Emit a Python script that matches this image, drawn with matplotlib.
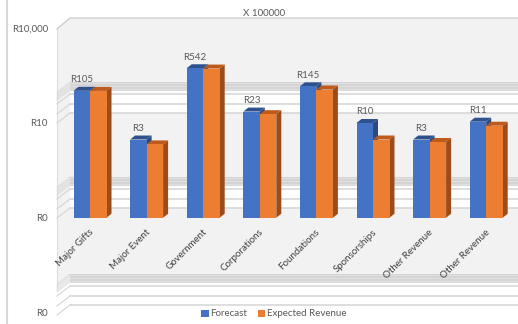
import matplotlib
matplotlib.use("Agg")
import matplotlib.pyplot as plt
import numpy as np
from matplotlib.patches import Polygon, Rectangle, Patch
from matplotlib.lines import Line2D
from matplotlib.transforms import IdentityTransform
from matplotlib.ticker import NullLocator

# ---- data -------------------------------------------------------------
categories = ["Major Gifts", "Major Event", "Government", "Corporations",
              "Foundations", "Sponsorships", "Other Revenue", "Other Revenue"]
forecast = [105, 3, 542, 23, 145, 10, 3, 11]
expected = [104, 2.1, 530, 19, 115, 3.0, 2.5, 8.2]
value_labels = ["R105", "R3", "R542", "R23", "R145", "R10", "R3", "R11"]
ytick_values = [1e4, 10, 1e-2, 1e-5]
ytick_labels = ["R10,000", "R10", "R0", "R0"]
series_names = ["Forecast", "Expected Revenue"]
unit_note = "X 100000"

# ---- style ------------------------------------------------------------
W, H = 518, 324
BLUE, BLUE_TOP, BLUE_SIDE = "#4472C4", "#2F528F", "#2B4A80"
ORANGE, ORANGE_TOP, ORANGE_SIDE = "#ED7D31", "#BE5B1C", "#9C4B19"
TXT = "#595959"
WALL = "#F2F2F2"
GRID = "#D4D4D4"
plt.rcParams["font.family"] = ["Lato", "DejaVu Sans"]

fig = plt.figure(figsize=(W / 100, H / 100), dpi=100)
fig.patch.set_facecolor("white")


def fx(px):
    return px / W


def fy(py):
    return 1 - py / H


def fig_poly(pts, **kw):
    p = Polygon([(fx(a), fy(b)) for a, b in pts], closed=True,
                transform=fig.transFigure, zorder=-5, **kw)
    fig.patches.append(p)


def fig_line(xs, ys, **kw):
    ln = Line2D([fx(a) for a in xs], [fy(b) for b in ys],
                transform=fig.transFigure, zorder=-4, **kw)
    fig.lines.append(ln)


# chart-area border on the left
fig_line([7, 7], [0, 324], color="#D9D9D9", lw=1.5)

# back wall, side wall and floor of the 3-D box
fig_poly([(57, 29), (70, 18), (518, 18), (518, 276), (70, 276), (57, 286)],
         facecolor=WALL, edgecolor="none")
fig_line([57, 70, 518], [29, 18, 18], color="#D0D0D0", lw=1.0)
fig_line([57, 57], [29, 290], color="#DDDDDD", lw=0.8)

# gridline bands on the wall / floor
for top in (82, 177, 274):
    fig_poly([(70, top), (518, top), (518, top + 31), (70, top + 31)],
             facecolor="white", edgecolor="none")
    fig_poly([(70, top), (518, top), (518, top + 8), (70, top + 8)],
             facecolor="#E0E0E0", edgecolor="none")
    for k in np.linspace(0, 8, 6):
        y = top + k
        fig_line([70, 518], [y, y], color="#D2D2D2", lw=0.6)
        fig_line([57, 70], [y + 10, y], color="#D8D8D8", lw=0.5)
    for k in (12, 22, 31):
        y = top + k
        fig_line([70, 518], [y, y], color=GRID, lw=1.1)
        fig_line([57, 70], [y + 10, y], color=GRID, lw=0.8)

# ---- axes ---------------------------------------------------------------
y_top_px, y_bot_px = 28.3, 312.4
ax = fig.add_axes([fx(57), fy(y_bot_px), fx(518) - fx(57),
                   (y_bot_px - y_top_px) / H])
ax.patch.set_visible(False)
ax.set_yscale("log")
ax.set_ylim(1e-5, 1e4)
spacing = 56.6
x0 = (90 - 57) / spacing
ax.set_xlim(-x0, -x0 + (518 - 57) / spacing)
for s in ax.spines.values():
    s.set_visible(False)

ax.set_yticks(ytick_values)
ax.set_yticklabels(ytick_labels)
ax.yaxis.set_minor_locator(NullLocator())
ax.tick_params(axis="y", length=0, pad=6.5, labelsize=7, labelcolor=TXT)
ax.set_xticks([])

base = 1e-2
x = np.arange(len(categories))
bw = 16.5 / spacing
fc = np.array(forecast, dtype=float)
ex = np.array(expected, dtype=float)

b1 = ax.bar(x - bw / 2, fc - base, width=bw, bottom=base, color=BLUE,
            linewidth=0, zorder=3)
b2 = ax.bar(x + bw / 2, ex - base, width=bw, bottom=base, color=ORANGE,
            linewidth=0, zorder=3)

# depth faces (side and top) in display space
dx, dy = 5.0, 4.0
ident = IdentityTransform()
z = 3.1
for i in range(len(categories)):
    for cx, val, face, top_c, side_c in (
            (x[i] - bw / 2, fc[i], BLUE, BLUE_TOP, BLUE_SIDE),
            (x[i] + bw / 2, ex[i], ORANGE, ORANGE_TOP, ORANGE_SIDE)):
        (xl, yt), (xr, yb) = ax.transData.transform(
            [(cx - bw / 2, val), (cx + bw / 2, base)])
        side = Polygon([(xr, yb), (xr, yt), (xr + dx, yt + dy),
                        (xr + dx, yb + dy)], closed=True, transform=ident,
                       facecolor=side_c, edgecolor="none", zorder=z)
        top = Polygon([(xl, yt), (xr, yt), (xr + dx, yt + dy),
                       (xl + dx, yt + dy)], closed=True, transform=ident,
                      facecolor=top_c, edgecolor="none", zorder=z)
        front = Rectangle((xl, yb), xr - xl, yt - yb, transform=ident,
                          facecolor=face, edgecolor="none", zorder=z + 0.01)
        for p in (side, top, front):
            p.set_clip_on(False)
            ax.add_patch(p)
        z += 0.1
# hide the flat bars underneath (faces drawn above carry the colour)
for r in list(b1) + list(b2):
    r.set_alpha(0)

# value labels above the forecast bars
for i, lab in enumerate(value_labels):
    ax.annotate(lab, (x[i] - bw / 2, fc[i]), xytext=(0, 8),
                textcoords="offset points", ha="center", va="center",
                fontsize=7, color=TXT, zorder=10)

# category labels on the floor
for i, cat in enumerate(categories):
    ax.annotate(cat, (x[i], base), xytext=(1.5, -9.5),
                textcoords="offset points", ha="right", va="center",
                rotation=45, rotation_mode="anchor", fontsize=7,
                color="#404040", zorder=10)

fig.text(fx(264), fy(13), unit_note, ha="center", va="center",
         fontsize=7, color=TXT)

handles = [Patch(facecolor=BLUE, edgecolor="none"),
           Patch(facecolor=ORANGE, edgecolor="none")]
fig.legend(handles, series_names, loc="center",
           bbox_to_anchor=(fx(274), fy(314)), ncol=2, frameon=False,
           fontsize=7, labelcolor=TXT, handlelength=0.75, handleheight=0.75,
           handletextpad=0.2, columnspacing=1.1, borderpad=0)

fig.savefig("out.png", dpi=100, facecolor="white")
